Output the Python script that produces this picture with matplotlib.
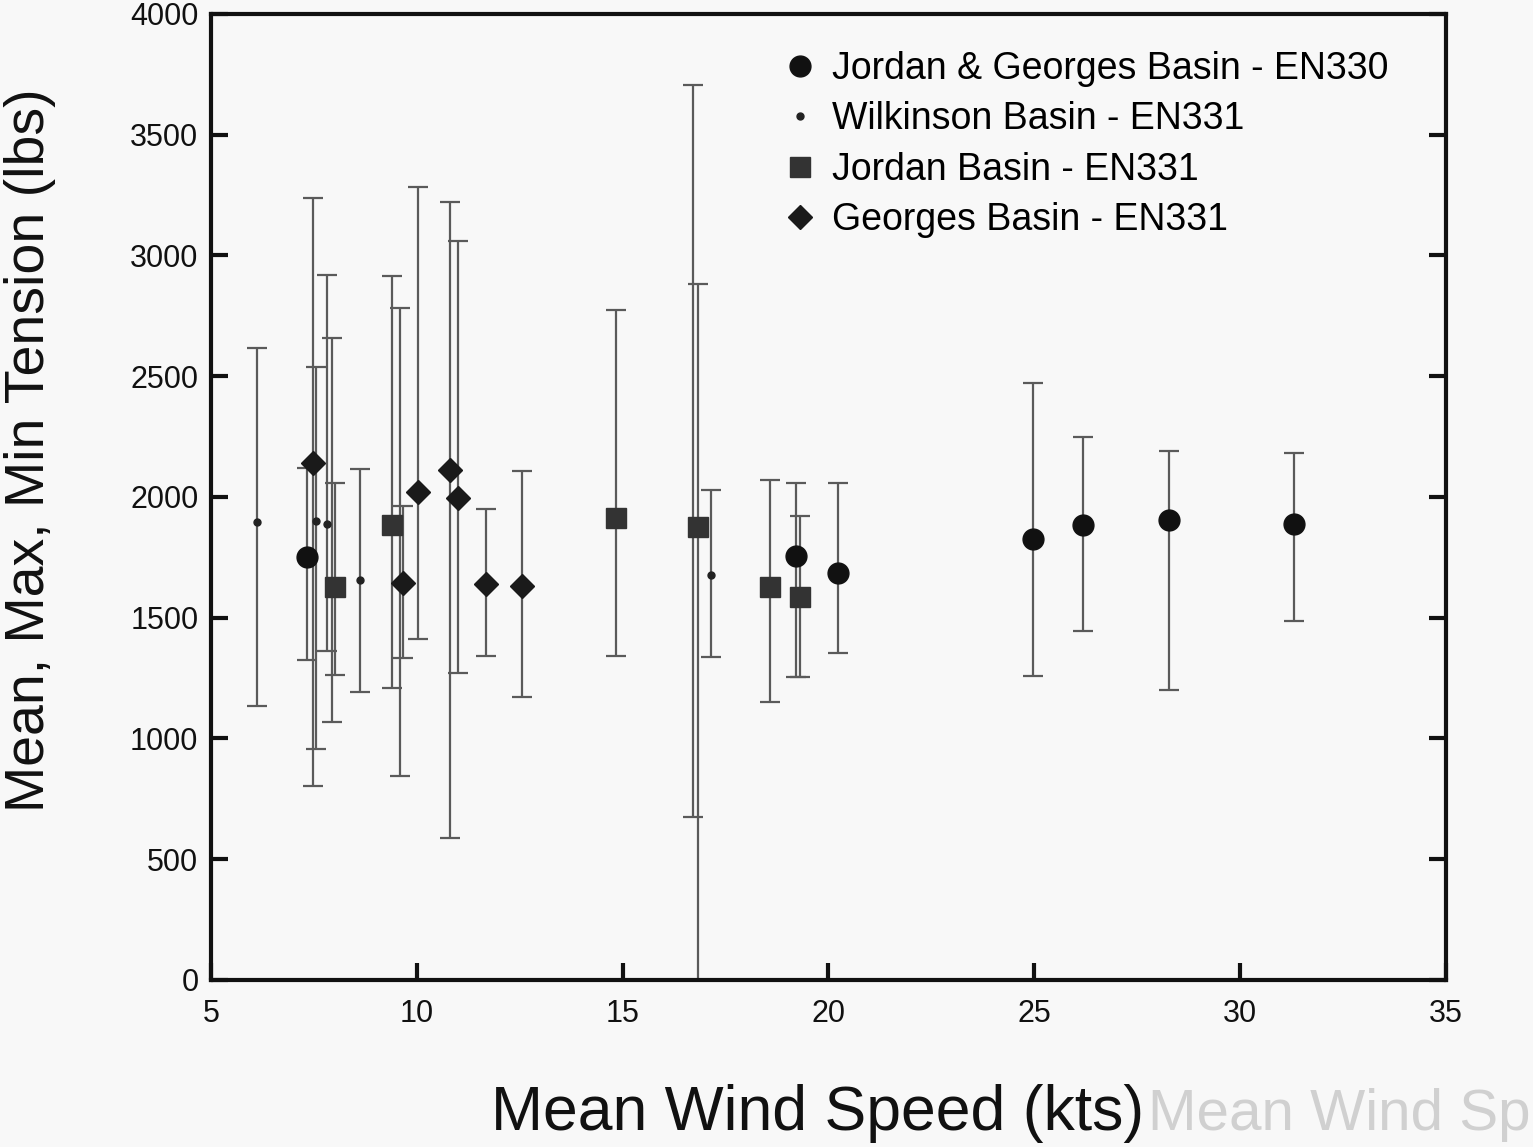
import numpy as np
import matplotlib
matplotlib.use("Agg")
import matplotlib.pyplot as plt

plt.rcParams['font.family'] = ['Liberation Sans', 'DejaVu Sans']

# Jordan & Georges Basin - EN330 (circles)
en330_x = [7.33, 19.2, 20.24, 24.97, 26.19, 28.27, 31.31]
en330_mean = [1752, 1756, 1687, 1826, 1884, 1905, 1888]
en330_max = [2118, 2059, 2059, 2473, 2250, 2192, 2181]
en330_min = [1325, 1256, 1355, 1259, 1445, 1201, 1488]

# Wilkinson Basin - EN331 (small dots)
wilk_x = [6.11, 7.55, 7.82, 7.95, 8.62, 9.6, 16.7, 17.15]
wilk_mean = [1896, 1900, 1890, 1630, 1655, 1645, 1877, 1677]
wilk_max = [2619, 2540, 2919, 2657, 2116, 2783, 3706, 2030]
wilk_min = [1136, 955, 1364, 1070, 1194, 845, 674, 1337]

# Jordan Basin - EN331 (squares)
jord_x = [8.02, 9.39, 14.83, 16.84, 18.58, 19.3]
jord_mean = [1628, 1882, 1913, 1877, 1626, 1587]
jord_max = [2057, 2915, 2775, 2882, 2070, 1923]
jord_min = [1263, 1210, 1341, 0, 1150, 1256]

# Georges Basin - EN331 (diamonds)
geo_x = [7.49, 9.67, 10.04, 10.8, 11.0, 11.68, 12.55]
geo_mean = [2140, 1645, 2022, 2110, 1995, 1640, 1632]
geo_max = [3238, 1961, 3284, 3222, 3060, 1951, 2109]
geo_min = [805, 1335, 1412, 587, 1273, 1341, 1173]

series = [
    ("Jordan & Georges Basin - EN330", en330_x, en330_mean, en330_max, en330_min, 'o', 15, '#111111'),
    ("Wilkinson Basin - EN331", wilk_x, wilk_mean, wilk_max, wilk_min, 'o', 5, '#222222'),
    ("Jordan Basin - EN331", jord_x, jord_mean, jord_max, jord_min, 's', 14, '#333333'),
    ("Georges Basin - EN331", geo_x, geo_mean, geo_max, geo_min, 'D', 12, '#1a1a1a'),
]

fig = plt.figure(figsize=(15.33, 11.47), dpi=100, facecolor='#f8f8f8')
ax = fig.add_axes([0.1376, 0.1456, 0.8056, 0.8422])
ax.set_facecolor('#f8f8f8')

for i, (label, x, m, hi, lo, mk, ms, col) in enumerate(series):
    x = np.array(x)
    m = np.array(m)
    hi = np.array(hi)
    lo = np.array(lo)
    ax.errorbar(x, m, yerr=[m - lo, hi - m], fmt='none', ecolor='#5a5a5a',
                elinewidth=1.6, capsize=7, capthick=1.6, zorder=2)
    ax.plot(x, m, linestyle='none', marker=mk, markersize=ms, color=col,
            markeredgecolor=col, label=label, zorder=3 + i)

ax.set_xlim(5, 35)
ax.set_ylim(0, 4000)
ax.set_xticks(np.arange(5, 36, 5))
ax.set_yticks(np.arange(0, 4001, 500))
ax.tick_params(axis='both', direction='in', length=12, width=3, labelsize=22,
               pad=9, colors='#111111')
ax.tick_params(axis='x', pad=14)
ax.tick_params(axis='y', right=True)
for sp in ax.spines.values():
    sp.set_linewidth(3)
    sp.set_color('#111111')

leg = ax.legend(loc='upper left', bbox_to_anchor=(0.4526, 0.977), frameon=False,
                fontsize=27, handletextpad=0.45, labelspacing=0.38,
                handlelength=0.8, borderaxespad=0, borderpad=0.4)

fig.text(30 / 1533, 1 - 450 / 1147, "Mean, Max, Min Tension (lbs)", fontsize=40,
         rotation=90, ha='center', va='center', color='#111111')
fig.text(0.533, 0.015, "Mean Wind Speed (kts)", fontsize=45, ha='center',
         va='baseline', color='#111111')
# faint ghost of the scanned page behind
fig.text(0.749, 0.015, "Mean Wind Sp", fontsize=42, ha='left',
         va='baseline', color='#d0d0d0')

fig.savefig("out.png", dpi=100, facecolor=fig.get_facecolor())
